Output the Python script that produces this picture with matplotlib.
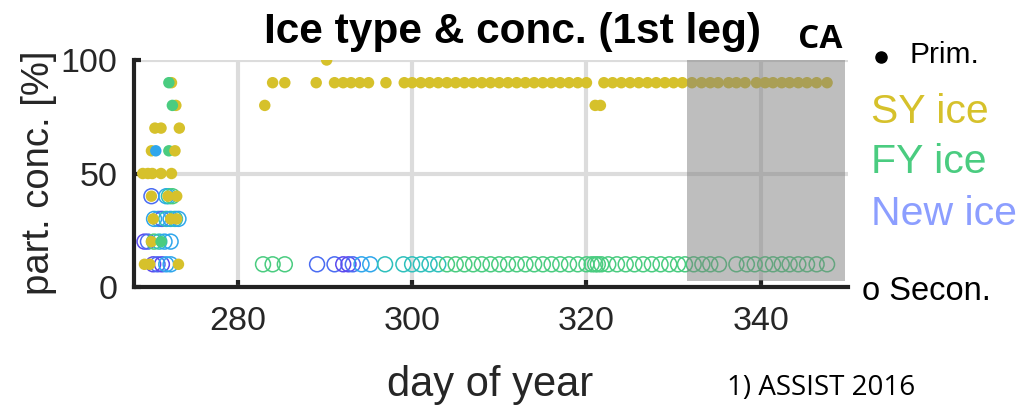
import matplotlib
matplotlib.use("Agg")
import matplotlib.pyplot as plt
from matplotlib.patches import Rectangle
from matplotlib.lines import Line2D

plt.rcParams['font.family'] = ['Liberation Sans', 'DejaVu Sans']

# ice type -> colour
type_colors = {
    'SY': '#D6C12B',   # second-year ice
    'FY': '#4ACC80',   # first-year ice
    'YI': '#2EC0BC',   # young ice
    'GI': '#2FA6EC',   # grey ice
    'NI': '#4A6CF2',   # new ice
    'NP': '#5A4AEE',   # nilas
}

# primary ice (filled dots), start of leg
prim_day_a = [272.4, 272.1, 272.9, 272.5, 270.5, 271.2, 273.3, 270.1, 270.6, 272.1, 272.8,
              269.1, 269.7, 270.2, 271.2, 272.4, 270.1, 272.0, 273.0, 270.3, 272.3, 273.0,
              270.1, 271.2, 269.3, 269.9, 273.2]
prim_conc_a = [90, 90, 80, 80, 70, 70, 70, 60, 60, 60, 60,
               50, 50, 50, 50, 50, 40, 40, 40, 30, 30, 30,
               20, 20, 10, 10, 10]
prim_type_a = ['SY', 'FY', 'SY', 'FY', 'SY', 'SY', 'SY', 'SY', 'GI', 'FY', 'SY',
               'SY', 'SY', 'SY', 'SY', 'SY', 'SY', 'SY', 'SY', 'SY', 'SY', 'SY',
               'SY', 'FY', 'SY', 'SY', 'SY']
# primary ice, rest of leg (all SY)
prim_day_b = [283.1, 284.0, 285.4, 289.0, 290.2, 291.1, 292.1, 293.0, 294.0, 295.0, 297.0,
              299.1, 300.0, 301.0, 302.0, 303.0, 304.0, 305.0, 306.0, 307.0, 308.0, 309.0,
              310.0, 311.0, 312.0, 313.0, 314.0, 315.0, 316.0, 317.0, 318.0, 319.0, 320.0,
              321.0, 321.6, 322.0, 323.0, 324.0, 325.0, 326.0, 327.0, 328.0, 329.0, 330.0,
              331.0, 332.1, 333.2, 334.2, 335.1, 336.3, 337.2, 338.2, 339.5, 340.5, 341.4,
              342.4, 343.3, 344.3, 345.3, 346.4, 347.6]
prim_conc_b = [80, 90, 90, 90, 100, 90, 90, 90, 90, 90, 90,
               90, 90, 90, 90, 90, 90, 90, 90, 90, 90, 90,
               90, 90, 90, 90, 90, 90, 90, 90, 90, 90, 90,
               80, 80, 90, 90, 90, 90, 90, 90, 90, 90, 90,
               90, 90, 90, 90, 90, 90, 90, 90, 90, 90, 90,
               90, 90, 90, 90, 90, 90]

# secondary ice (open circles), start of leg
sec_day_a = [270.1, 271.8, 272.1, 272.5,
             270.4, 270.9, 271.3, 271.8, 272.3, 272.8, 273.2,
             269.3, 269.7, 270.4, 271.0, 271.6, 272.3,
             270.3, 270.8, 271.3, 271.8, 272.3]
sec_conc_a = [40, 40, 40, 40,
              30, 30, 30, 30, 30, 30, 30,
              20, 20, 20, 20, 20, 20,
              10, 10, 10, 10, 10]
sec_type_a = ['NI', 'GI', 'YI', 'FY',
              'GI', 'GI', 'NI', 'YI', 'GI', 'YI', 'GI',
              'NP', 'NI', 'FY', 'YI', 'GI', 'GI',
              'NP', 'NI', 'NP', 'GI', 'GI']
# secondary ice, rest of leg (all at 10 %)
sec_day_b = [282.9, 284.0, 285.4, 289.1, 291.1, 292.1, 292.7, 293.2, 294.2, 295.2, 296.9,
             299.0, 300.0, 301.0, 302.0, 303.0, 304.0, 305.0, 306.0, 307.0, 308.0, 309.0,
             310.0, 311.0, 312.0, 313.0, 314.0, 315.0, 316.0, 317.0, 318.0, 319.0, 320.0,
             320.6, 321.0, 321.3, 321.7, 322.5, 323.5, 324.5, 325.5, 326.5, 327.5, 328.5,
             329.5, 330.5, 331.3, 332.3, 333.3, 334.2, 335.2, 337.2, 338.4, 339.3, 340.5,
             341.4, 342.4, 343.3, 344.3, 345.3, 346.4, 347.6]
sec_type_b = ['FY', 'FY', 'FY', 'NI', 'NI', 'NP', 'NP', 'NI', 'GI', 'GI', 'YI',
              'YI', 'YI', 'YI', 'YI', 'YI', 'FY', 'FY', 'FY', 'FY', 'FY', 'FY',
              'FY', 'FY', 'FY', 'FY', 'FY', 'FY', 'FY', 'FY', 'FY', 'FY', 'FY',
              'FY', 'FY', 'FY', 'FY', 'FY', 'FY', 'FY', 'FY', 'FY', 'FY', 'FY',
              'FY', 'FY', 'FY', 'FY', 'FY', 'FY', 'FY', 'FY', 'FY', 'FY', 'FY',
              'FY', 'FY', 'FY', 'FY', 'FY', 'FY', 'FY']
sec_conc_b_value = 10

x_ticks = [280, 300, 320, 340]
y_ticks = [0, 50, 100]
ca_start, ca_end = 331.5, 349.6

prim_day = prim_day_a + prim_day_b
prim_conc = prim_conc_a + prim_conc_b
prim_type = prim_type_a + ['SY'] * len(prim_day_b)
sec_day = sec_day_a + sec_day_b
sec_conc = sec_conc_a + [sec_conc_b_value] * len(sec_day_b)
sec_type = sec_type_a + sec_type_b

W, H = 1031, 405
fig = plt.figure(figsize=(W / 100, H / 100), dpi=100)
ax = fig.add_axes([134 / W, 1 - 287 / H, (848 - 134) / W, (287 - 60) / H])


def fy(y_px):
    return 1 - y_px / H


ax.scatter(sec_day, sec_conc, s=115, facecolors='none',
           edgecolors=[type_colors[t] for t in sec_type], linewidths=1.1, zorder=3)
ax.scatter(prim_day, prim_conc, s=68, c=[type_colors[t] for t in prim_type],
           edgecolors='none', zorder=4)

# central arctic shading
ax.add_patch(Rectangle((ca_start, 2.5), ca_end - ca_start, 97.5, facecolor='#7f7f7f',
                       alpha=0.5, edgecolor='none', zorder=5))

ax.set_xlim(268.1, 350)
ax.set_ylim(0, 100)
ax.set_xticks(x_ticks)
ax.set_yticks(y_ticks)
ax.grid(True, color='#DCDCDC', linewidth=3, zorder=0)
ax.set_axisbelow(True)
for s in ['top', 'right']:
    ax.spines[s].set_visible(False)
for s in ['left', 'bottom']:
    ax.spines[s].set_linewidth(3)
    ax.spines[s].set_color('#222222')
    ax.spines[s].set_zorder(6)
ax.tick_params(direction='in', length=5, width=3, color='#222222', labelsize=24.5,
               labelcolor='#262626')
ax.tick_params(axis='x', pad=14)
ax.tick_params(axis='y', pad=12)

fig.text(512 / W, fy(43), 'Ice type & conc. (1st leg)', ha='center', va='baseline',
         fontsize=30.5, fontweight='bold')
fig.text(820 / W, fy(48), 'CA', ha='center', va='baseline', fontsize=24,
         fontweight='bold', family=['Open Sans', 'DejaVu Sans'])
fig.text(39 / W, fy(173), 'part. conc. [%]', rotation=90, ha='center', va='center',
         fontsize=27.5, color='#262626')
fig.text(490 / W, fy(396), 'day of year', ha='center', va='baseline', fontsize=30,
         color='#262626')
fig.text(821 / W, fy(395), '1) ASSIST 2016', ha='center', va='baseline', fontsize=20,
         family=['Open Sans', 'DejaVu Sans'])

fig.add_artist(Line2D([881 / W], [fy(57)], marker='o', markersize=8, color='black',
                      transform=fig.transFigure))
fig.text(909 / W, fy(63), 'Prim.', ha='left', va='baseline', fontsize=21.5)
fig.text(871 / W, fy(123), 'SY ice', ha='left', va='baseline', fontsize=29.5,
         color=type_colors['SY'])
fig.text(871 / W, fy(173), 'FY ice', ha='left', va='baseline', fontsize=29.5,
         color=type_colors['FY'])
fig.text(871 / W, fy(225), 'New ice', ha='left', va='baseline', fontsize=29.5,
         color='#8C9EFF')
fig.text(862 / W, fy(300), 'o Secon.', ha='left', va='baseline', fontsize=23.5)

fig.savefig('out.png', dpi=100)
